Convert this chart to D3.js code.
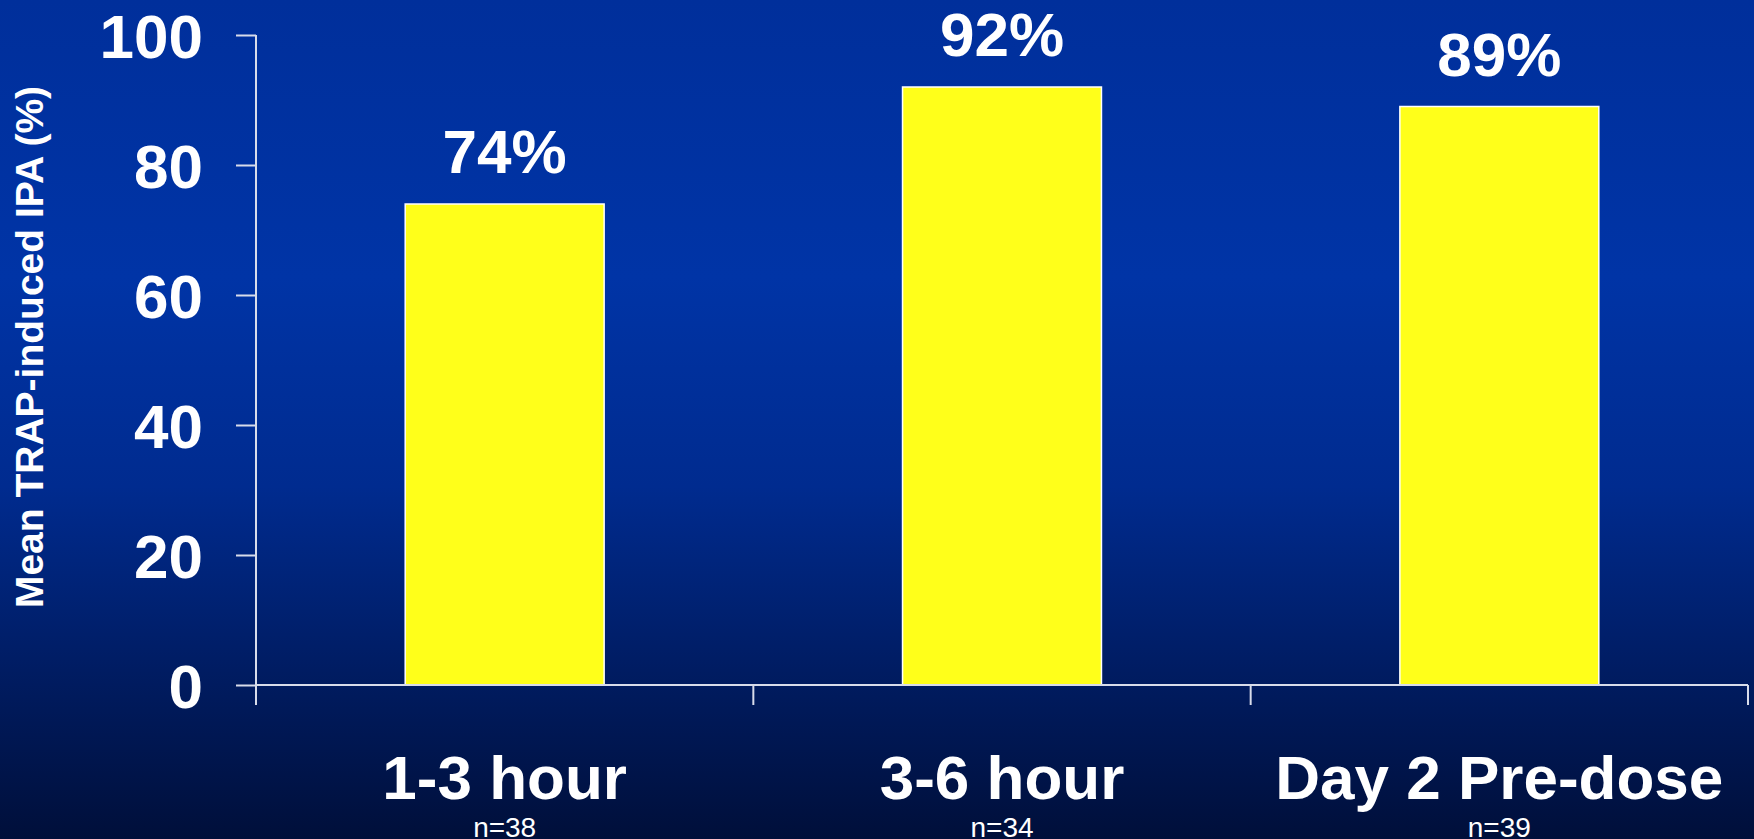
<!DOCTYPE html>
<html>
<head>
<meta charset="utf-8">
<script src="https://cdn.jsdelivr.net/npm/d3@7"></script>
<style>
  html, body { margin: 0; padding: 0; background: #001a5c; }
  svg { display: block; }
  text { font-family: "Liberation Sans", Arial, sans-serif; fill: #ffffff; }
</style>
</head>
<body>
<svg id="chart" width="1754" height="839"></svg>
<script>
// Mean TRAP-induced inhibition of platelet aggregation by sampling time
const categories = ["1-3 hour", "3-6 hour", "Day 2 Pre-dose"];
const sampleSizes = ["n=38", "n=34", "n=39"];
const ipaValues = [74, 92, 89];
const yTicks = [0, 20, 40, 60, 80, 100];
const yTitle = "Mean TRAP-induced IPA (%)";

const W = 1754, H = 839;
const plot = { left: 256, right: 1748, top: 35, bottom: 685 };

const svg = d3.select("#chart");

// Background: vertical blue gradient darkening towards the bottom
const defs = svg.append("defs");
const grad = defs.append("linearGradient")
  .attr("id", "bg").attr("x1", 0).attr("y1", 0).attr("x2", 0).attr("y2", 1);
[
  [0, "#002f9b"],
  [0.33, "#0034a6"],
  [0.58, "#002b8f"],
  [0.8, "#001c62"],
  [1, "#000f3a"]
].forEach(([o, c]) => grad.append("stop").attr("offset", o).attr("stop-color", c));
svg.append("rect").attr("width", W).attr("height", H).attr("fill", "url(#bg)");

const x = d3.scaleBand()
  .domain(categories)
  .range([plot.left, plot.right])
  .paddingInner(0.6)
  .paddingOuter(0.3);

const y = d3.scaleLinear().domain([0, 100]).range([plot.bottom, plot.top]);

// Bars
svg.append("g").selectAll("rect")
  .data(ipaValues)
  .join("rect")
  .attr("x", (d, i) => x(categories[i]))
  .attr("y", d => y(d))
  .attr("width", x.bandwidth())
  .attr("height", d => y(0) - y(d))
  .attr("fill", "#ffff1a")
  .attr("stroke", "#ffffff")
  .attr("stroke-width", 1.5);

// Value labels above bars
svg.append("g").selectAll("text")
  .data(ipaValues)
  .join("text")
  .attr("x", (d, i) => x(categories[i]) + x.bandwidth() / 2)
  .attr("y", d => y(d) - 31)
  .attr("text-anchor", "middle")
  .attr("font-size", 62)
  .attr("font-weight", "bold")
  .text(d => d + "%");

// Y axis
const yAxis = svg.append("g")
  .attr("transform", `translate(${plot.left},0)`)
  .call(d3.axisLeft(y).tickValues(yTicks).tickSize(20).tickPadding(33));
yAxis.select(".domain").remove();
yAxis.append("line")
  .attr("x1", 0).attr("x2", 0)
  .attr("y1", y(100)).attr("y2", plot.bottom + 20)
  .attr("stroke", "#d8dcea").attr("stroke-width", 2);
yAxis.selectAll(".tick line").attr("stroke", "#d8dcea").attr("stroke-width", 2);
yAxis.selectAll(".tick text")
  .attr("font-family", '"Liberation Sans", Arial, sans-serif')
  .attr("font-size", 62)
  .attr("font-weight", "bold")
  .attr("fill", "#ffffff")
  .attr("dy", "0.36em");

// X axis: baseline with category boundary ticks
const xAxisG = svg.append("g");
xAxisG.append("line")
  .attr("x1", plot.left).attr("x2", plot.right)
  .attr("y1", y(0)).attr("y2", y(0))
  .attr("stroke", "#d8dcea").attr("stroke-width", 2);
const boundaries = categories.slice(1)
  .map(c => x(c) - x.step() * x.paddingInner() / 2)
  .concat([plot.right]);
xAxisG.selectAll("line.b")
  .data(boundaries)
  .join("line")
  .attr("class", "b")
  .attr("x1", d => d).attr("x2", d => d)
  .attr("y1", y(0)).attr("y2", y(0) + 20)
  .attr("stroke", "#d8dcea").attr("stroke-width", 2);

// Category labels and sample sizes
const catG = svg.append("g");
catG.selectAll("text.cat")
  .data(categories)
  .join("text")
  .attr("class", "cat")
  .attr("x", d => x(d) + x.bandwidth() / 2)
  .attr("y", 799)
  .attr("text-anchor", "middle")
  .attr("font-size", 62)
  .attr("font-weight", "bold")
  .text(d => d);
catG.selectAll("text.n")
  .data(sampleSizes)
  .join("text")
  .attr("class", "n")
  .attr("x", (d, i) => x(categories[i]) + x.bandwidth() / 2)
  .attr("y", 837)
  .attr("text-anchor", "middle")
  .attr("font-size", 28)
  .text(d => d);

// Y axis title
svg.append("text")
  .attr("transform", "translate(43,347) rotate(-90)")
  .attr("text-anchor", "middle")
  .attr("font-size", 39)
  .attr("font-weight", "bold")
  .text(yTitle);
</script>
</body>
</html>
